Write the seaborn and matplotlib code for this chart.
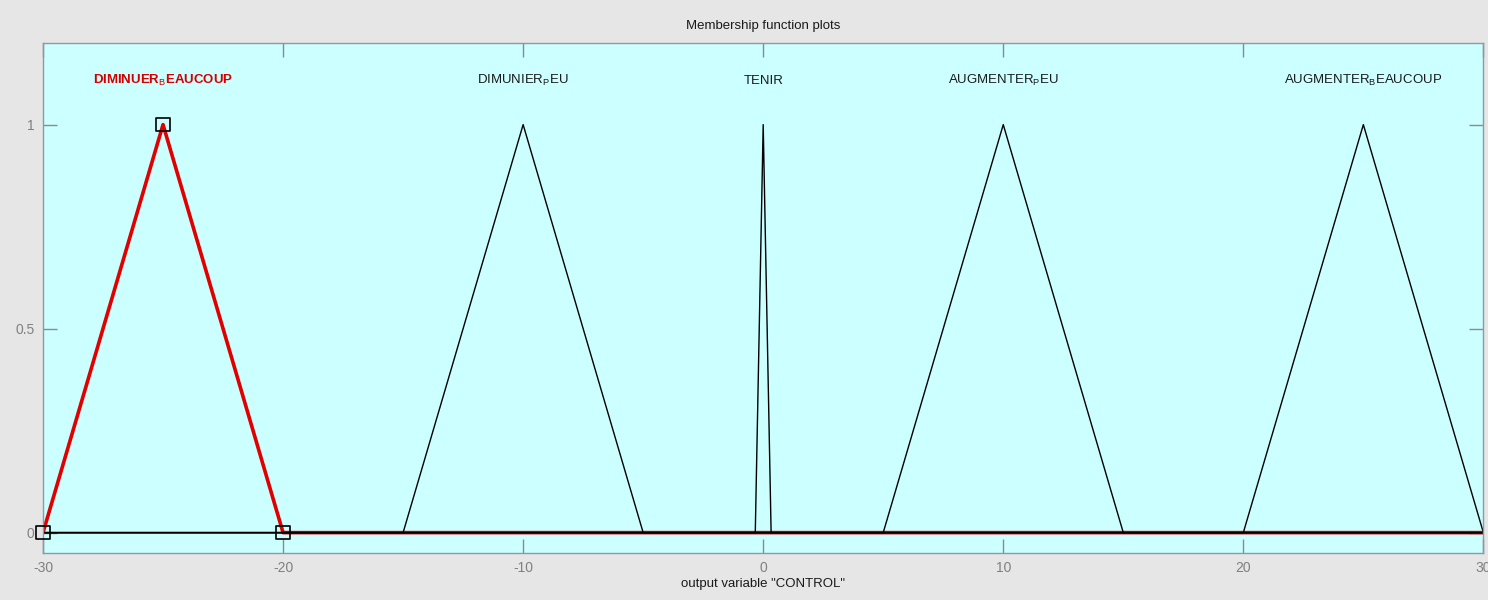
import numpy as np
import pandas as pd
import matplotlib
matplotlib.use("Agg")
import matplotlib.pyplot as plt
import seaborn as sns

# output variable range
X_RANGE = [-30, 30]

# triangular membership functions (a, b, c)
MF_NAMES = ["DIMINUER$_B$EAUCOUP", "DIMUNIER$_P$EU", "TENIR",
            "AUGMENTER$_P$EU", "AUGMENTER$_B$EAUCOUP"]
MF_A = [-30, -15, -0.33, 5, 20]
MF_B = [-25, -10, 0, 10, 25]
MF_C = [-20, -5, 0.33, 15, 30]
SELECTED = 0

X_TICKS = [-30, -20, -10, 0, 10, 20, 30]
Y_TICKS = [0, 0.5, 1]

sns.set_theme(style="ticks")
plt.rcParams['font.family'] = ['Liberation Sans Narrow', 'Liberation Sans', 'DejaVu Sans']
plt.rcParams['mathtext.fontset'] = 'custom'
plt.rcParams['mathtext.rm'] = 'Liberation Sans'
plt.rcParams['mathtext.it'] = 'Liberation Sans'

fig = plt.figure(figsize=(14.88, 6), dpi=100, facecolor="#e6e6e6")
ax = fig.add_axes([0.0289, 0.0783, 0.968, 0.85])
ax.set_facecolor("#ccffff")


def mf_frame(i):
    xs = [X_RANGE[0], MF_A[i], MF_B[i], MF_C[i], X_RANGE[1]]
    ys = [0, 0, 1, 0, 0]
    return pd.DataFrame({"x": xs, "y": ys})


# selected function first (thick red), others drawn on top
sel = mf_frame(SELECTED)
sns.lineplot(data=sel, x="x", y="y", sort=False, estimator=None,
             color="#e00000", lw=2.6, ax=ax)
for i in range(len(MF_NAMES)):
    if i == SELECTED:
        continue
    sns.lineplot(data=mf_frame(i), x="x", y="y", sort=False, estimator=None,
                 color="black", lw=1.0, ax=ax)

# handles on the selected function vertices
pts = pd.DataFrame({"x": [MF_A[SELECTED], MF_B[SELECTED], MF_C[SELECTED]],
                    "y": [0, 1, 0]})
sns.scatterplot(data=pts, x="x", y="y", marker="s", s=90,
                facecolor="none", edgecolor="black", linewidth=1.2,
                ax=ax, zorder=5, clip_on=False)

for i, name in enumerate(MF_NAMES):
    col = "#d40000" if i == SELECTED else "#1a1a1a"
    ax.text(MF_B[i], 1.108, name, ha="center", va="center",
            fontsize=9.5, color=col,
            fontweight="semibold" if i == SELECTED else "normal")

ax.set_xlim(*X_RANGE)
ax.set_ylim(-0.05, 1.2)
ax.set_xticks(X_TICKS)
ax.set_xticklabels([str(t) for t in X_TICKS])
ax.set_yticks(Y_TICKS)
ax.set_yticklabels(["0", "0.5", "1"])
ax.tick_params(direction="in", length=10, width=1, color="#8a8a8a",
               labelcolor="#808080", labelsize=10,
               top=True, right=True, pad=6)
for sp in ax.spines.values():
    sp.set_color("#8a9aa8")
    sp.set_linewidth(1.0)

ax.set_xlabel('output variable "CONTROL"', fontsize=9.5, color="#1a1a1a", labelpad=2)
ax.set_ylabel("")
fig.text(0.5128, 0.957, "Membership function plots", ha="center", va="center",
         fontsize=9.5, color="#1a1a1a")

fig.savefig("out.png", dpi=100, facecolor=fig.get_facecolor())
